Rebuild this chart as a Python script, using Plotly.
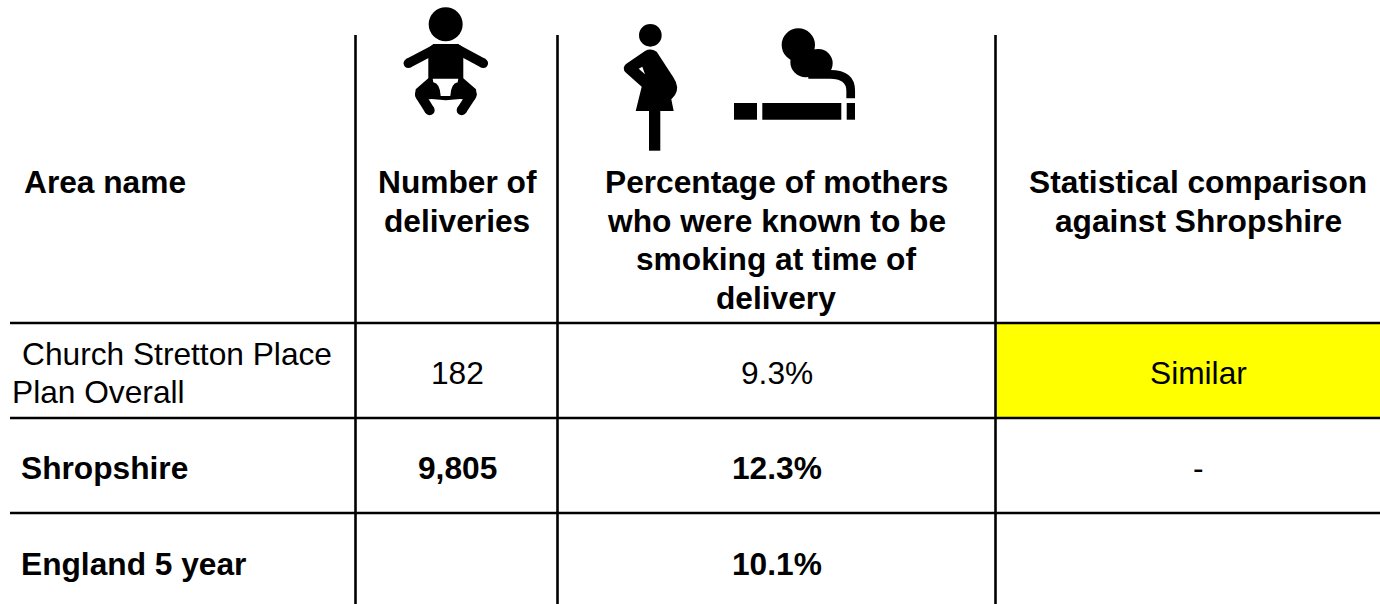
import plotly.graph_objects as go

areas = [["Church Stretton Place", "Plan Overall"], ["Shropshire"], ["England 5 year"]]
deliveries = ["182", "9,805", ""]
percentages = ["9.3%", "12.3%", "10.1%"]
comparisons = ["Similar", "-", ""]

header_area = ["Area name"]
header_deliveries = ["Number of", "deliveries"]
header_percent = ["Percentage of mothers", "who were known to be", "smoking at time of", "delivery"]
header_compare = ["Statistical comparison", "against Shropshire"]

FONT = "Liberation Sans"
SIZE = 31.7
LINE_GAP = 38.6

fig = go.Figure()


def add_text(x, y, text, bold=False, anchor="center"):
    fig.add_annotation(x=x, y=y, text=f"<b>{text}</b>" if bold else text, showarrow=False,
                       xanchor=anchor, yanchor="middle", borderpad=0,
                       font=dict(family=FONT, size=SIZE, color="black"))


def add_lines(x, top, lines, bold=False, anchor="center"):
    for i, line in enumerate(lines):
        add_text(x, top + i * LINE_GAP, line, bold, anchor)


def line(x0, y0, x1, y1, width=2.6):
    fig.add_shape(type="line", x0=x0, y0=y0, x1=x1, y1=y1, line=dict(color="black", width=width))


# icons are traced in the coordinates of a 3x crop starting at x=380
def ix(v):
    return 380 + v / 3


def iy(v):
    return v / 3


def icon_path(cmds):
    parts = []
    for cmd in cmds:
        pts = [f"{ix(cmd[i]):.1f},{iy(cmd[i + 1]):.1f}" for i in range(1, len(cmd), 2)]
        parts.append(cmd[0] + " ".join(pts))
    return " ".join(parts)


def polygon(points):
    cmds = [("M" if i == 0 else "L", p[0], p[1]) for i, p in enumerate(points)]
    return icon_path(cmds) + " Z"


def solid(path, color="black"):
    fig.add_shape(type="path", path=path, fillcolor=color, line=dict(width=0))


def circle(cx, cy, r):
    fig.add_shape(type="circle", x0=ix(cx - r), x1=ix(cx + r), y0=iy(cy - r), y1=iy(cy + r),
                  fillcolor="black", line=dict(width=0))


def stroke(p0, p1, width):
    path = icon_path([("M", p0[0], p0[1]), ("L", p1[0], p1[1])])
    fig.add_shape(type="path", path=path, line=dict(color="black", width=width))
    circle(p0[0], p0[1], width * 3 / 2)
    circle(p1[0], p1[1], width * 3 / 2)


def draw_baby():
    circle(197, 73, 51)
    solid(polygon([(160, 132), (235, 132), (250, 145), (250, 240), (145, 240), (145, 145)]))
    stroke((165, 148), (85, 190), 9.5)
    stroke((232, 148), (310, 190), 9.5)
    # hips and thighs as one block, diaper cut out of it afterwards
    solid(polygon([(145, 235), (250, 235), (288, 268), (290, 285), (272, 300), (240, 297), (197, 301),
                   (155, 297), (122, 300), (105, 285), (107, 268)]))
    circle(121, 284, 16)
    circle(274, 284, 16)
    stroke((122, 288), (149, 331), 10)
    stroke((273, 288), (245, 331), 10)
    solid(icon_path([("M", 158, 236), ("L", 235, 236), ("L", 233, 247),
                     ("Q", 213, 250, 211, 288), ("L", 182, 288), ("Q", 180, 250, 160, 247)]) + " Z", "white")


def draw_mother():
    circle(811, 106, 34)
    solid(icon_path([("M", 795, 153), ("Q", 812, 143, 830, 155), ("L", 880, 232), ("Q", 900, 262, 885, 285),
                     ("L", 874, 298), ("L", 881, 333), ("L", 767, 333), ("L", 785, 260), ("L", 738, 218),
                     ("Q", 724, 205, 738, 192), ("L", 795, 153)]) + " Z")
    solid(polygon([(776, 206), (787, 200), (795, 223)]), "white")
    solid(polygon([(807, 333), (841, 333), (841, 452), (807, 452)]))


def draw_cigarette():
    for x0, x1 in [(1062, 1131), (1147, 1384), (1400, 1425)]:
        solid(polygon([(x0, 309), (x1, 309), (x1, 359), (x0, 359)]))
    circle(1255, 135, 50)
    circle(1315, 190, 43)
    circle(1277, 186, 46)
    path = icon_path([("M", 1285, 223), ("L", 1350, 223), ("Q", 1412, 223, 1412, 272), ("L", 1412, 295)])
    fig.add_shape(type="path", path=path, line=dict(color="black", width=8.7))


# highlighted cell goes under the rules
fig.add_shape(type="rect", x0=996, x1=1380, y0=323, y1=418, fillcolor="#ffff00", line=dict(width=0))

for x in [355.5, 557.5, 995.5]:
    line(x, 35, x, 604)
for y in [323, 418, 513]:
    line(10, y, 1380, y)

draw_baby()
draw_mother()
draw_cigarette()

add_lines(23, 182, header_area, True, "left")
add_lines(457, 182, header_deliveries, True)
add_lines(776, 182, header_percent, True)
add_lines(1198, 182, header_compare, True)

row_y = [373, 468, 564]
add_text(20.5, 354, areas[0][0], False, "left")
add_text(10.5, 392, areas[0][1], False, "left")
add_text(20, row_y[1], areas[1][0], True, "left")
add_text(20, row_y[2], areas[2][0], True, "left")

for i, y in enumerate(row_y):
    bold = i > 0
    if deliveries[i]:
        add_text(457, y, deliveries[i], bold)
    add_text(776.5, y, percentages[i], bold)
    if comparisons[i]:
        add_text(1198, y, comparisons[i])

fig.update_xaxes(visible=False, range=[0, 1380], fixedrange=True)
fig.update_yaxes(visible=False, range=[604, 0], fixedrange=True)
fig.update_layout(width=1380, height=604, margin=dict(l=0, r=0, t=0, b=0), showlegend=False,
                  paper_bgcolor="white", plot_bgcolor="white")

fig.write_html("out.html", config=dict(displayModeBar=False),
               post_script="document.body.style.margin='0';")
